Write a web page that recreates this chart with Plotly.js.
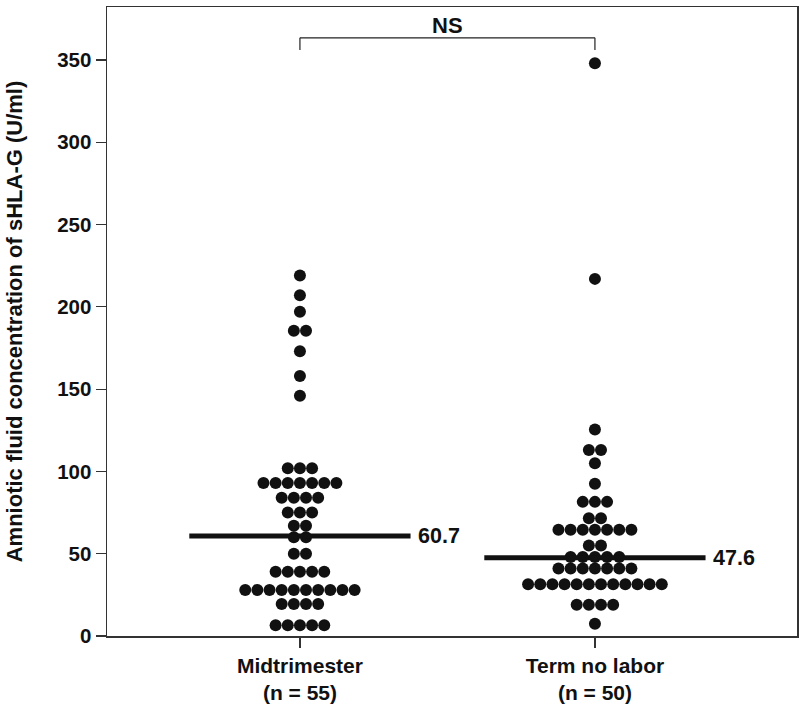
<!DOCTYPE html>
<html>
<head>
<meta charset="utf-8">
<script src="https://cdn.plot.ly/plotly-3.0.1.min.js"></script>
<style>html,body{margin:0;padding:0;background:#fff;}#chart{width:800px;height:706px;}</style>
</head>
<body>
<div id="chart"></div>
<script>
// Data (U/ml); equal values form one row of the dot plot
var categories = ['Midtrimester', 'Term no labor'];
var tickLabels = ['Midtrimester<br>(n = 55)', 'Term no labor<br>(n = 50)'];
var midtrimester = [
  219, 207, 197, 185.5, 185.5, 173, 158, 146,
  102, 102, 102,
  93, 93, 93, 93, 93, 93, 93,
  84, 84, 84, 84,
  75, 75, 75,
  67, 67,
  60, 60,
  50, 50,
  39, 39, 39, 39, 39,
  28, 28, 28, 28, 28, 28, 28, 28, 28, 28,
  19.5, 19.5, 19.5, 19.5,
  6.5, 6.5, 6.5, 6.5, 6.5
];
var termNoLabor = [
  348, 217,
  125.5,
  113, 113,
  105,
  92.5,
  81.5, 81.5, 81.5,
  71.5, 71.5,
  64.5, 64.5, 64.5, 64.5, 64.5, 64.5, 64.5,
  55, 55,
  48, 48, 48, 48, 48,
  41, 41, 41, 41, 41, 41, 41,
  31.5, 31.5, 31.5, 31.5, 31.5, 31.5, 31.5, 31.5, 31.5, 31.5, 31.5, 31.5,
  19, 19, 19, 19,
  7.5
];
var medians = [60.7, 47.6];
var medianLabels = ['60.7', '47.6'];
var significance = 'NS';

// Layout helpers
var dotStep = 0.0412;   // horizontal spacing between dots in a row (category units)
var halfLine = 0.375;   // half width of median bar

function swarm(values, center) {
  var rows = {};
  values.forEach(function (v) { (rows[v] = rows[v] || []).push(v); });
  var xs = [], ys = [];
  Object.keys(rows).forEach(function (k) {
    var r = rows[k], n = r.length;
    for (var i = 0; i < n; i++) {
      xs.push(center + (i - (n - 1) / 2) * dotStep);
      ys.push(r[i]);
    }
  });
  return { x: xs, y: ys };
}

var groups = [midtrimester, termNoLabor];
var traces = [];
groups.forEach(function (vals, gi) {
  var s = swarm(vals, gi);
  traces.push({
    type: 'scatter', mode: 'markers', x: s.x, y: s.y, name: categories[gi],
    marker: { size: 12, color: '#111', line: { width: 0 } },
    hoverinfo: 'y', showlegend: false, cliponaxis: false
  });
  traces.push({
    type: 'scatter', mode: 'lines',
    x: [gi - halfLine, gi + halfLine], y: [medians[gi], medians[gi]],
    line: { color: '#111', width: 5 }, showlegend: false, hoverinfo: 'skip'
  });
});

var FONT = 'Liberation Sans, Arial, sans-serif';
var annotations = medians.map(function (m, gi) {
  return {
    x: gi + halfLine + 0.02, y: m, xref: 'x', yref: 'y', text: '<b>' + medianLabels[gi] + '</b>',
    showarrow: false, xanchor: 'left', yanchor: 'middle',
    font: { family: FONT, size: 21.5, color: '#111' }
  };
});
annotations.push({
  x: 0.5, y: 371, xref: 'x', yref: 'y', text: '<b>' + significance + '</b>', showarrow: false,
  xanchor: 'center', yanchor: 'middle',
  font: { family: FONT, size: 22, color: '#111' }
});

var shapes = [
  { type: 'line', xref: 'x', yref: 'y', x0: 0, x1: 1, y0: 363.5, y1: 363.5, line: { color: '#222', width: 1.2 } },
  { type: 'line', xref: 'x', yref: 'y', x0: 0, x1: 0, y0: 363.5, y1: 356, line: { color: '#222', width: 1.2 } },
  { type: 'line', xref: 'x', yref: 'y', x0: 1, x1: 1, y0: 363.5, y1: 356, line: { color: '#222', width: 1.2 } }
];

var layout = {
  width: 800, height: 706,
  margin: { l: 107, r: 3, t: 7, b: 70 },
  paper_bgcolor: '#fff', plot_bgcolor: '#fff',
  font: { family: FONT, color: '#111' },
  xaxis: {
    range: [-0.654, 1.685], tickvals: [0, 1], ticktext: tickLabels.map(function (t) { return '<b>' + t + '</b>'; }),
    showgrid: false, zeroline: false, showline: true, mirror: true, linecolor: '#333', linewidth: 1.5,
    ticks: 'outside', ticklen: 10, tickwidth: 1.2, tickcolor: '#333',
    tickfont: { size: 21, color: '#111' }
  },
  yaxis: {
    range: [0, 382.2], tickvals: [0, 50, 100, 150, 200, 250, 300, 350],
    ticktext: ['0', '50', '100', '150', '200', '250', '300', '350'].map(function (t) { return '<b>' + t + '</b>'; }),
    showgrid: false, zeroline: false, showline: true, mirror: true, linecolor: '#333', linewidth: 1.5,
    ticks: 'outside', ticklen: 10, tickwidth: 1.2, tickcolor: '#333',
    tickfont: { size: 20.5, color: '#111' },
    title: { text: '<b>Amniotic fluid concentration of sHLA-G (U/ml)</b>', font: { size: 22, color: '#111' }, standoff: 28 }
  },
  annotations: annotations,
  shapes: shapes
};

Plotly.newPlot('chart', traces, layout, { displayModeBar: false, staticPlot: true });
</script>
</body>
</html>
